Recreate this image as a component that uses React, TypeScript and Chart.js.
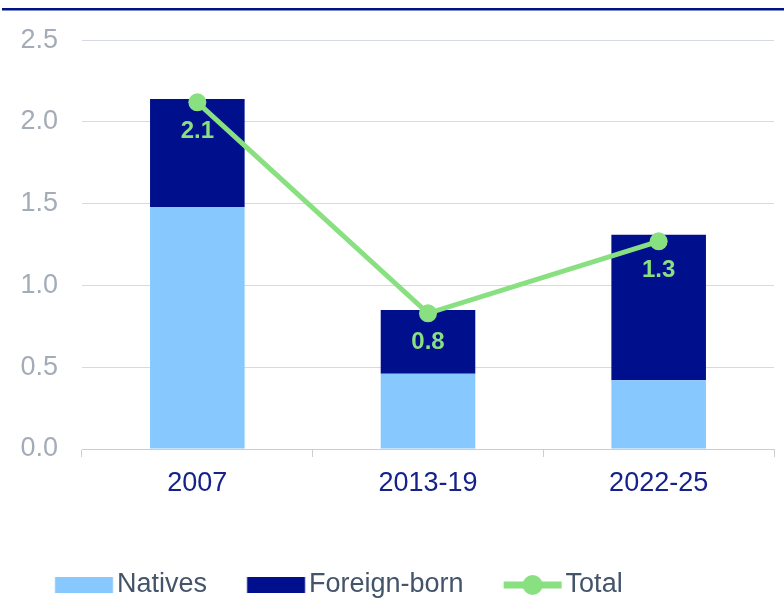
import React, { useEffect, useRef } from "react";
import { Chart, registerables } from "chart.js";

Chart.register(...registerables);

const categories = ["2007", "2013-19", "2022-25"];
const natives = [1.48, 0.46, 0.42];
const foreignBorn = [0.66, 0.39, 0.89];
const total = [2.12, 0.83, 1.27];
const totalLabels = ["2.1", "0.8", "1.3"];
const seriesNames = ["Natives", "Foreign-born", "Total"];

const NATIVES_COLOR = "#87c8ff";
const FOREIGN_COLOR = "#000f8c";
const TOTAL_COLOR = "#88e080";
const FONT = "'Liberation Sans', Arial, sans-serif";

const PAD_LEFT = 15;
const LEG_BW = 76.5; // legend pointStyleWidth
const LEG_PAD = 12;
const ICON_W = 100;
const ICON_H = 24;

function makeIcon(kind: "box" | "line", color: string): HTMLCanvasElement {
  const c = document.createElement("canvas");
  c.width = ICON_W;
  c.height = ICON_H;
  const ctx = c.getContext("2d")!;
  const left = ICON_W / 2 - LEG_BW / 2 + (LEG_BW - 48.5);
  ctx.fillStyle = color;
  if (kind === "box") {
    ctx.fillRect(left, 4, 58, 16);
  } else {
    ctx.fillRect(left, ICON_H / 2 - 3.5, 58, 7);
    ctx.beginPath();
    ctx.arc(left + 29, ICON_H / 2, 10, 0, Math.PI * 2);
    ctx.fill();
  }
  return c;
}

const topLinePlugin = {
  id: "topLine",
  beforeDraw(chart: any) {
    const ctx = chart.ctx;
    ctx.save();
    ctx.fillStyle = "#001489";
    ctx.fillRect(2, 8, chart.width, 2.5);
    ctx.restore();
  },
};

const valueLabelPlugin = {
  id: "valueLabels",
  afterDatasetsDraw(chart: any) {
    const meta = chart.getDatasetMeta(2);
    if (!meta || meta.hidden) return;
    const ctx = chart.ctx;
    ctx.save();
    ctx.font = `bold 24px ${FONT}`;
    ctx.fillStyle = TOTAL_COLOR;
    ctx.textAlign = "center";
    ctx.textBaseline = "middle";
    meta.data.forEach((pt: any, i: number) => {
      ctx.fillText(totalLabels[i], pt.x, pt.y + 29);
    });
    ctx.restore();
  },
};

export default function App() {
  const ref = useRef<HTMLCanvasElement | null>(null);

  useEffect(() => {
    if (!ref.current) return;
    const icons = [
      makeIcon("box", NATIVES_COLOR),
      makeIcon("box", FOREIGN_COLOR),
      makeIcon("line", TOTAL_COLOR),
    ];
    const chart = new Chart(ref.current, {
      type: "bar",
      data: {
        labels: categories,
        datasets: [
          {
            type: "bar",
            label: seriesNames[0],
            data: natives,
            backgroundColor: NATIVES_COLOR,
            stack: "s",
            order: 2,
            barPercentage: 0.41,
            categoryPercentage: 1,
          },
          {
            type: "bar",
            label: seriesNames[1],
            data: foreignBorn,
            backgroundColor: FOREIGN_COLOR,
            stack: "s",
            order: 2,
            barPercentage: 0.41,
            categoryPercentage: 1,
          },
          {
            type: "line",
            label: seriesNames[2],
            data: total,
            borderColor: TOTAL_COLOR,
            backgroundColor: TOTAL_COLOR,
            borderWidth: 5,
            pointRadius: 9,
            pointBorderWidth: 0,
            pointBackgroundColor: TOTAL_COLOR,
            stack: "t",
            order: 1,
          } as any,
        ],
      },
      options: {
        animation: false,
        responsive: false,
        maintainAspectRatio: false,
        layout: { padding: { top: 40, left: PAD_LEFT, right: 10, bottom: -8.5 } },
        plugins: {
          tooltip: { enabled: false },
          legend: {
            position: "bottom",
            align: "start",
            labels: {
              usePointStyle: true,
              pointStyleWidth: LEG_BW,
              padding: LEG_PAD,
              color: "#44546a",
              font: { size: 27, family: FONT },
              generateLabels: () =>
                seriesNames.map((name, i) => ({
                  text: name,
                  pointStyle: icons[i] as any,
                  datasetIndex: i,
                  fillStyle: "transparent",
                  strokeStyle: "transparent",
                  lineWidth: 0,
                  hidden: false,
                  fontColor: "#44546a",
                })),
            },
          },
        },
        scales: {
          x: {
            stacked: true,
            grid: {
              display: true,
              drawOnChartArea: false,
              drawTicks: true,
              tickLength: 8,
              color: "#c9ced6",
              offset: true,
            },
            border: { display: true, color: "#c9ced6" },
            ticks: {
              color: "#16228c",
              font: { size: 27, family: FONT },
              padding: 10,
              maxRotation: 0,
            },
            afterFit: (scale: any) => {
              scale.height = 110.5;
            },
          },
          y: {
            stacked: true,
            min: 0,
            max: 2.5,
            grid: { color: "#d6dbe3", drawTicks: false },
            border: { display: false },
            ticks: {
              stepSize: 0.5,
              color: "#a4acb8",
              font: { size: 27, family: FONT },
              padding: 24,
              callback: (v: any) => Number(v).toFixed(1),
            },
            afterFit: (scale: any) => {
              scale.width = 82 - PAD_LEFT;
            },
          },
        },
      },
      plugins: [topLinePlugin, valueLabelPlugin],
    });
    return () => chart.destroy();
  }, []);

  return (
    <div style={{ position: "fixed", left: 0, top: 0, width: 784, height: 600, background: "#fff" }}>
      <canvas ref={ref} width={784} height={600} style={{ display: "block", width: 784, height: 600 }} />
    </div>
  );
}
